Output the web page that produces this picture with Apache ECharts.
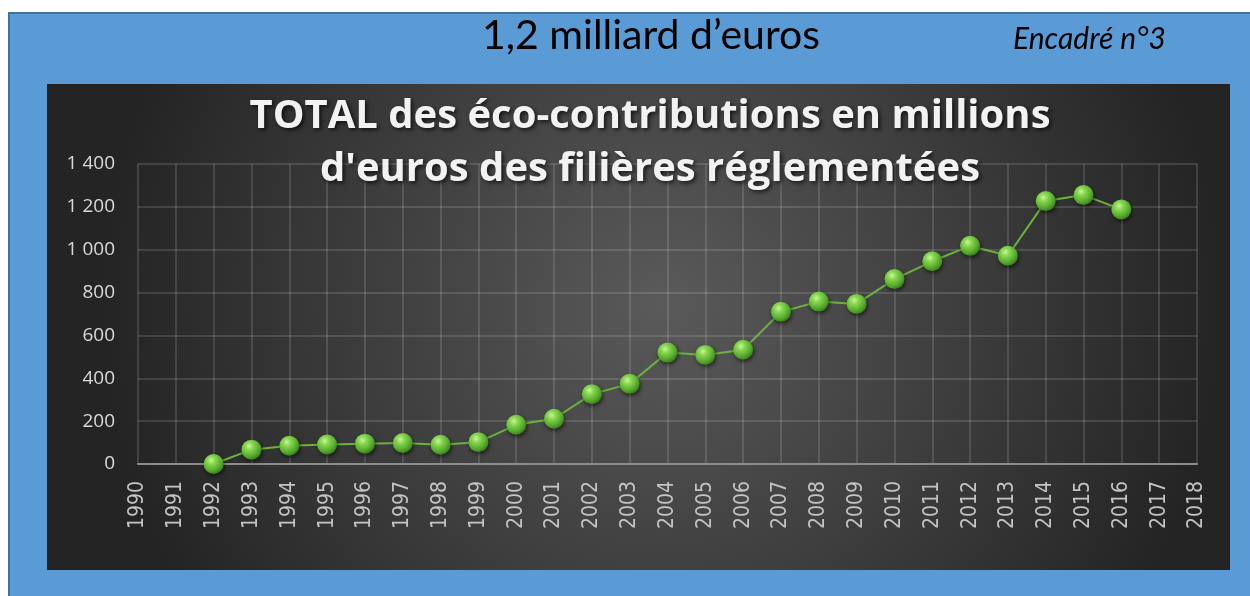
<!DOCTYPE html>
<html>
<head>
<meta charset="utf-8">
<style>
  html, body { margin: 0; padding: 0; background: #fff; }
  #chart { width: 1250px; height: 596px; }
</style>
<script src="https://cdn.jsdelivr.net/npm/echarts@6/dist/echarts.min.js"></script>
</head>
<body>
<div id="chart"></div>
<script>
// années de l'axe (1990 -> 2018)
const years = ['1990', '1991', '1992', '1993', '1994', '1995', '1996', '1997', '1998', '1999',
  '2000', '2001', '2002', '2003', '2004', '2005', '2006', '2007', '2008', '2009',
  '2010', '2011', '2012', '2013', '2014', '2015', '2016', '2017', '2018']
// éco-contributions en millions d'euros (null = pas de donnée)
const totals = [null, null, 0, 67, 85, 91, 95, 98, 90, 102,
  183, 211, 326, 374, 520, 509, 533, 710, 758, 747,
  863, 946, 1018, 972, 1227, 1255, 1188, null, null]
const yTicks = [0, 200, 400, 600, 800, 1000, 1200, 1400]

const chart = echarts.init(document.getElementById('chart'))

const sphere = {
  type: 'radial', x: 0.38, y: 0.32, r: 0.7,
  colorStops: [
    { offset: 0, color: '#c8f59a' },
    { offset: 0.3, color: '#86d64e' },
    { offset: 0.75, color: '#54a82c' },
    { offset: 1, color: '#3b7d1d' }
  ]
}

chart.setOption({
  backgroundColor: '#ffffff',
  animation: false,
  graphic: [
    {
      type: 'rect', z: -20,
      shape: { x: 9, y: 13, width: 1250, height: 600 },
      style: { fill: '#5b9bd5', stroke: '#41719c', lineWidth: 2 }
    },
    {
      type: 'rect', z: -10,
      shape: { x: 47, y: 84, width: 1183, height: 486 },
      style: {
        fill: {
          type: 'radial', x: 0.52, y: 0.45, r: 1.15,
          colorStops: [
            { offset: 0, color: '#5a5a5a' },
            { offset: 1, color: '#242424' }
          ]
        }
      }
    }
  ],
  title: [
    {
      text: '1,2 milliard d’euros',
      left: 646, top: 10, textAlign: 'center',
      textStyle: { fontFamily: 'Lato', fontSize: 41, fontWeight: 'normal', color: '#000' }
    },
    {
      text: 'Encadré n°3',
      left: 1008, top: 19,
      textStyle: { fontFamily: 'Lato', fontSize: 30, fontStyle: 'italic', fontWeight: 'normal', color: '#000' }
    },
    {
      text: "TOTAL des éco-contributions en millions\nd'euros des filières réglementées",
      left: 645, top: 85, textAlign: 'center',
      textStyle: {
        fontFamily: 'Open Sans', fontSize: 40, fontWeight: 'bold', color: '#f2f2f2',
        lineHeight: 53,
        textShadowColor: 'rgba(0,0,0,0.7)', textShadowBlur: 4, textShadowOffsetX: 2, textShadowOffsetY: 2
      }
    }
  ],
  grid: { left: 138, right: 53, top: 164, bottom: 132, outerBoundsMode: 'none' },
  xAxis: {
    type: 'category',
    data: years,
    boundaryGap: false,
    axisLine: { lineStyle: { color: '#8c8c8c', width: 2 } },
    axisTick: { show: false },
    axisLabel: {
      rotate: 90, interval: 0, margin: 17,
      color: '#c4c4c4', fontFamily: '"DejaVu Sans Condensed", "DejaVu Sans"', fontSize: 21
    },
    splitLine: { show: true, interval: 0, lineStyle: { color: 'rgba(255,255,255,0.13)', width: 2 } }
  },
  yAxis: {
    type: 'value',
    min: yTicks[0], max: yTicks[yTicks.length - 1], interval: 200,
    axisLine: { show: false },
    axisTick: { show: false },
    axisLabel: {
      margin: 23,
      color: '#d9d9d9', fontFamily: 'Open Sans', fontSize: 19,
      formatter: v => v >= 1000 ? String(v).replace(/(\d)(\d{3})$/, '$1 $2') : String(v)
    },
    splitLine: { lineStyle: { color: 'rgba(255,255,255,0.13)', width: 2 } }
  },
  series: [{
    type: 'line',
    data: totals,
    connectNulls: false,
    symbol: 'circle',
    symbolSize: 20,
    lineStyle: { color: '#6cb23e', width: 2 },
    itemStyle: {
      color: sphere,
      borderWidth: 0,
      shadowColor: 'rgba(0,0,0,0.6)', shadowBlur: 4, shadowOffsetX: 1, shadowOffsetY: 2
    }
  }]
})
</script>
</body>
</html>
